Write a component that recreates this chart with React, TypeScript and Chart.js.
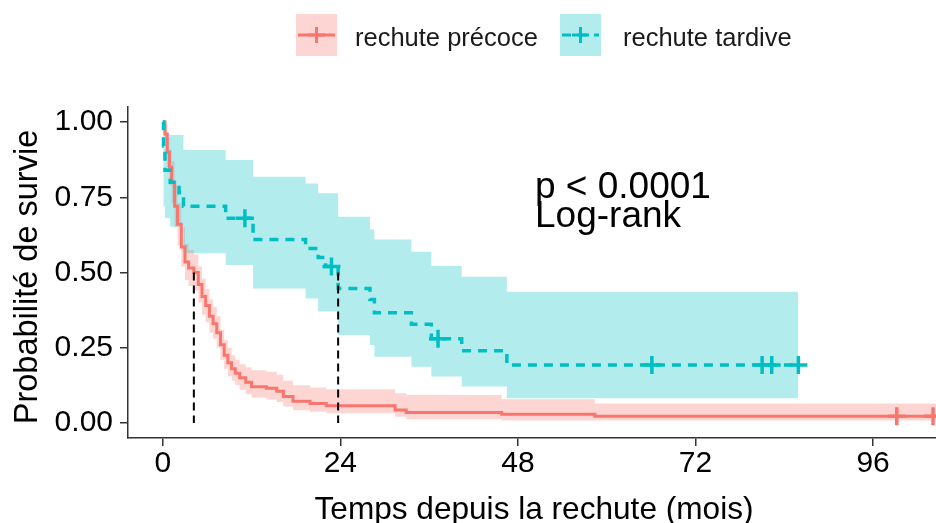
import React, { useEffect, useRef } from "react";
import { Chart, registerables } from "chart.js";

Chart.register(...registerables);

const FONT = "'Liberation Sans', Arial, Helvetica, sans-serif";

// ---- Data: rechute précoce (Kaplan-Meier steps) ----
const RED_T = [0, 0.3, 0.6, 0.9, 1.2, 1.6, 2.0, 2.5, 3.0, 3.5, 4.2, 4.8, 5.3, 5.8, 6.3, 6.8, 7.3, 7.8, 8.3, 8.8, 9.3, 9.8, 10.4, 11.2, 12.0, 14.0, 15.4, 16.3, 17.6, 19.9, 22.1, 31.4, 32.9, 45.8, 58.4];
const RED_S = [1, 0.96, 0.9, 0.85, 0.8, 0.72, 0.66, 0.585, 0.535, 0.515, 0.5, 0.46, 0.42, 0.39, 0.355, 0.33, 0.3, 0.26, 0.225, 0.2, 0.18, 0.165, 0.15, 0.135, 0.12, 0.115, 0.105, 0.088, 0.072, 0.065, 0.057, 0.043, 0.035, 0.029, 0.022];
const RED_UP = [1, 0.99, 0.95, 0.91, 0.87, 0.79, 0.73, 0.65, 0.595, 0.575, 0.56, 0.52, 0.48, 0.445, 0.41, 0.385, 0.355, 0.31, 0.275, 0.25, 0.225, 0.21, 0.195, 0.185, 0.175, 0.17, 0.16, 0.14, 0.125, 0.118, 0.112, 0.099, 0.093, 0.079, 0.065];
const RED_LO = [1, 0.92, 0.85, 0.79, 0.73, 0.65, 0.59, 0.52, 0.475, 0.455, 0.44, 0.4, 0.36, 0.335, 0.3, 0.28, 0.25, 0.21, 0.18, 0.155, 0.14, 0.125, 0.11, 0.095, 0.085, 0.078, 0.07, 0.055, 0.042, 0.037, 0.032, 0.021, 0.012, 0.008, 0.008];
const RED_END = 104.5;
const RED_CENSOR_T = [99.2, 104.1];
const RED_CENSOR_S = [0.022, 0.022];

// ---- Data: rechute tardive ----
const CYAN_T = [0, 0.1, 0.3, 1.0, 2.2, 2.8, 8.5, 12.2, 19.3, 21.0, 22.0, 23.7, 28.0, 28.6, 33.6, 36.3, 40.4, 46.5];
const CYAN_S = [1, 0.92, 0.84, 0.8, 0.765, 0.72, 0.68, 0.61, 0.58, 0.55, 0.52, 0.447, 0.41, 0.366, 0.328, 0.28, 0.24, 0.193];
const CYAN_UP = [1, 0.99, 0.96, 0.957, 0.957, 0.907, 0.874, 0.818, 0.796, 0.763, 0.763, 0.685, 0.643, 0.61, 0.569, 0.522, 0.486, 0.436];
const CYAN_LO = [1, 0.72, 0.68, 0.652, 0.652, 0.564, 0.525, 0.447, 0.414, 0.37, 0.37, 0.292, 0.259, 0.22, 0.187, 0.154, 0.121, 0.082];
const CYAN_END = 85.9;
const CYAN_CENSOR_T = [11.1, 22.8, 37.2, 66.1, 81.0, 82.3, 85.9];
const CYAN_CENSOR_S = [0.68, 0.52, 0.28, 0.193, 0.193, 0.193, 0.193];

const MEDIANS = [4.2, 23.7];
const X_TICKS = [0, 24, 48, 72, 96];
const Y_TICKS = [0, 0.25, 0.5, 0.75, 1];
const X_MIN = -4.7;
const X_MAX = 104.5;
const Y_MIN = -0.05;
const Y_MAX = 1.05;

const LEGEND_LABELS = ["rechute précoce", "rechute tardive"];
const X_TITLE = "Temps depuis la rechute (mois)";
const Y_TITLE = "Probabilité de survie";
const PVAL_LINES = ["p < 0.0001", "Log-rank"];

const RED = "#F8766D";
const CYAN = "#00BFC4";
const RED_FILL = "rgba(248,118,109,0.3)";
const CYAN_FILL = "rgba(0,191,196,0.3)";

function steps(ts: number[], vs: number[], end: number) {
  const pts = ts.map((t, i) => ({ x: t, y: vs[i] }));
  pts.push({ x: end, y: vs[vs.length - 1] });
  return pts;
}

function pairs(ts: number[], vs: number[]) {
  return ts.map((t, i) => ({ x: t, y: vs[i] }));
}

const textPlugin = {
  id: "kmText",
  afterDraw(chart: any) {
    const ctx = chart.ctx as CanvasRenderingContext2D;
    ctx.save();
    // legend
    const drawKey = (x0: number, fill: string, color: string, dash: number[]) => {
      ctx.fillStyle = fill;
      ctx.fillRect(x0, 14, 41, 42);
      ctx.strokeStyle = color;
      ctx.lineWidth = 3;
      ctx.setLineDash(dash);
      ctx.beginPath();
      ctx.moveTo(x0 + 2, 35);
      ctx.lineTo(x0 + 39, 35);
      ctx.stroke();
      ctx.setLineDash([]);
      ctx.lineWidth = 3;
      ctx.beginPath();
      ctx.moveTo(x0 + 20.5, 27);
      ctx.lineTo(x0 + 20.5, 43);
      ctx.moveTo(x0 + 12, 35);
      ctx.lineTo(x0 + 29, 35);
      ctx.stroke();
    };
    drawKey(296, RED_FILL, RED, []);
    drawKey(560, CYAN_FILL, CYAN, [9, 7]);
    ctx.fillStyle = "#1a1a1a";
    ctx.font = `25.5px ${FONT}`;
    ctx.textAlign = "left";
    ctx.textBaseline = "alphabetic";
    ctx.fillText(LEGEND_LABELS[0], 355, 46);
    ctx.fillText(LEGEND_LABELS[1], 623, 46);

    // p-value annotation
    ctx.fillStyle = "#000";
    ctx.font = `37px ${FONT}`;
    ctx.fillText(PVAL_LINES[0], 535, 198);
    ctx.fillText(PVAL_LINES[1], 535, 227);

    // axis titles
    ctx.font = `31.6px ${FONT}`;
    ctx.textAlign = "center";
    ctx.fillText(X_TITLE, 534, 519);
    ctx.save();
    ctx.font = `32.5px ${FONT}`;
    ctx.translate(37, 277);
    ctx.rotate(-Math.PI / 2);
    ctx.fillText(Y_TITLE, 0, 0);
    ctx.restore();
    ctx.restore();
  },
};

export default function App() {
  const ref = useRef<HTMLCanvasElement | null>(null);
  useEffect(() => {
    document.body.style.margin = "0";
    const canvas = ref.current!;
    const chart = new Chart(canvas, {
      type: "line",
      data: {
        datasets: [
          { data: steps(RED_T, RED_UP, RED_END), stepped: true, fill: "+1", backgroundColor: RED_FILL, borderWidth: 0, pointRadius: 0, order: 5 } as any,
          { data: steps(RED_T, RED_LO, RED_END), stepped: true, fill: false, borderWidth: 0, pointRadius: 0, order: 5 },
          { data: steps(CYAN_T, CYAN_UP, CYAN_END), stepped: true, fill: "+1", backgroundColor: CYAN_FILL, borderWidth: 0, pointRadius: 0, order: 4 },
          { data: steps(CYAN_T, CYAN_LO, CYAN_END), stepped: true, fill: false, borderWidth: 0, pointRadius: 0, order: 4 },
          { data: steps(RED_T, RED_S, RED_END), stepped: true, borderColor: RED, borderWidth: 3, pointRadius: 0, fill: false, order: 3 },
          { data: steps(CYAN_T, CYAN_S, CYAN_END), stepped: true, borderColor: CYAN, borderWidth: 3.5, borderDash: [9, 7], pointRadius: 0, fill: false, order: 2 },
          { data: pairs(RED_CENSOR_T, RED_CENSOR_S), showLine: false, pointStyle: "cross", pointRadius: 9, pointBorderWidth: 3.5, pointBorderColor: RED, borderColor: RED, order: 1 },
          { data: pairs(CYAN_CENSOR_T, CYAN_CENSOR_S), showLine: false, pointStyle: "cross", pointRadius: 9, pointBorderWidth: 3.5, pointBorderColor: CYAN, borderColor: CYAN, order: 1 },
          ...MEDIANS.map((m) => ({ data: [{ x: m, y: 0.5 }, { x: m, y: 0 }], borderColor: "#000", borderWidth: 2, borderDash: [8, 5], pointRadius: 0, fill: false, order: 0 })),
        ],
      },
      options: {
        responsive: false,
        animation: false,
        devicePixelRatio: 1,
        layout: { autoPadding: false, padding: { top: 107, left: 0, right: 0, bottom: 0 } },
        plugins: { legend: { display: false }, tooltip: { enabled: false } },
        scales: {
          x: {
            type: "linear",
            min: X_MIN,
            max: X_MAX,
            afterBuildTicks: (s: any) => { s.ticks = X_TICKS.map((v) => ({ value: v })); },
            afterFit: (s: any) => { s.height = 85; s.paddingLeft = 0; s.paddingRight = 0; },
            grid: { drawOnChartArea: false, drawTicks: true, tickLength: 8, color: "#333", lineWidth: 1.5 },
            border: { display: true, color: "#333", width: 1.5 },
            ticks: { font: { family: FONT, size: 30 }, color: "#000", padding: 0, maxRotation: 0, autoSkip: false },
          },
          y: {
            type: "linear",
            min: Y_MIN,
            max: Y_MAX,
            afterBuildTicks: (s: any) => { s.ticks = Y_TICKS.map((v) => ({ value: v })); },
            afterFit: (s: any) => { s.width = 128; s.paddingTop = 0; s.paddingBottom = 0; },
            grid: { drawOnChartArea: false, drawTicks: true, tickLength: 8, color: "#333", lineWidth: 1.5 },
            border: { display: true, color: "#333", width: 1.5 },
            ticks: { font: { family: FONT, size: 30 }, color: "#000", padding: 7, callback: (v: any) => Number(v).toFixed(2) },
          },
        },
      } as any,
      plugins: [textPlugin],
    });
    return () => chart.destroy();
  }, []);
  return (
    <div style={{ width: 936, height: 523 }}>
      <canvas ref={ref} width={936} height={523} style={{ display: "block" }} />
    </div>
  );
}
